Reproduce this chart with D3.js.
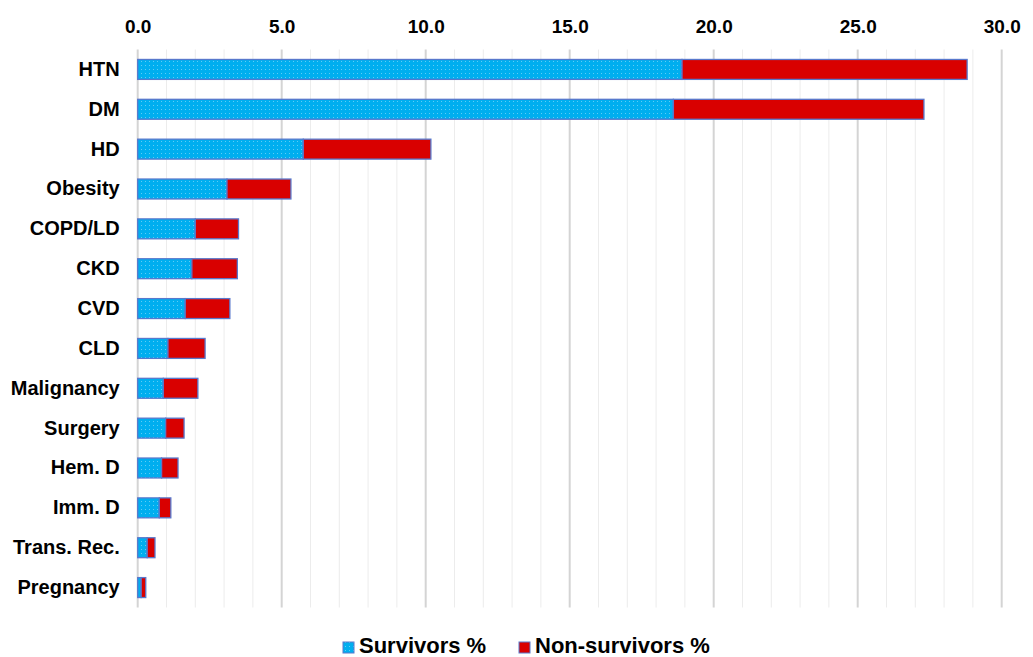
<!DOCTYPE html>
<html>
<head>
<meta charset="utf-8">
<script src="https://cdn.jsdelivr.net/npm/d3@7"></script>
<style>
  html, body { margin: 0; padding: 0; background: #fff; }
  svg { display: block; font-family: "Liberation Sans", Arial, sans-serif; }
</style>
</head>
<body>
<svg id="chart" width="1033" height="657"></svg>
<script>
// Comorbidity categories, top to bottom
const categories = ["HTN", "DM", "HD", "Obesity", "COPD/LD", "CKD", "CVD", "CLD",
  "Malignancy", "Surgery", "Hem. D", "Imm. D", "Trans. Rec.", "Pregnancy"];
// Percentages per group (stacked)
const survivors = [18.9, 18.6, 5.75, 3.1, 2.0, 1.88, 1.65, 1.05, 0.89, 0.97, 0.83, 0.75, 0.33, 0.12];
const nonSurvivors = [9.9, 8.7, 4.43, 2.22, 1.5, 1.58, 1.55, 1.29, 1.2, 0.64, 0.57, 0.4, 0.27, 0.16];
const seriesNames = ["Survivors %", "Non-survivors %"];
const xTicks = [0, 5, 10, 15, 20, 25, 30];

const svg = d3.select("#chart");
const plotLeft = 137.7, plotRight = 1001.7, plotTop = 49.5, plotBottom = 607.5;

const x = d3.scaleLinear().domain([0, 30]).range([plotLeft, plotRight]);
const y = d3.scaleBand().domain(categories).range([plotTop, plotBottom])
  .paddingInner(0.5).paddingOuter(0.25);

// Dotted fill for the survivors series
const defs = svg.append("defs");
const pat = defs.append("pattern").attr("id", "dots")
  .attr("patternUnits", "userSpaceOnUse").attr("width", 4).attr("height", 4);
pat.append("rect").attr("width", 4).attr("height", 4).attr("fill", "#00AEEF");
pat.append("rect").attr("x", 1).attr("y", 1).attr("width", 1).attr("height", 1)
  .attr("fill", "#5fcdf5");

// Gridlines: minor every 1, major every 5
const minor = d3.range(0, 31);
svg.append("g").selectAll("line").data(minor.filter(d => d % 5 !== 0)).join("line")
  .attr("x1", d => x(d)).attr("x2", d => x(d))
  .attr("y1", plotTop).attr("y2", plotBottom)
  .attr("stroke", "#ececec").attr("stroke-width", 1);
svg.append("g").selectAll("line").data(xTicks).join("line")
  .attr("x1", d => x(d)).attr("x2", d => x(d))
  .attr("y1", plotTop).attr("y2", plotBottom)
  .attr("stroke", "#d4d4d4").attr("stroke-width", 2);

// Top axis labels
const xAxis = d3.axisTop(x).tickValues(xTicks).tickFormat(d3.format(".1f")).tickSize(0).tickPadding(0);
const gx = svg.append("g").attr("transform", `translate(0,${plotTop - 17})`).call(xAxis);
gx.select(".domain").remove();
gx.selectAll("text").attr("font-size", 19).attr("font-weight", "bold").attr("fill", "#000")
  .attr("font-family", "Liberation Sans, Arial, sans-serif");

// Category axis
const yAxis = d3.axisLeft(y).tickSize(0).tickPadding(0);
const gy = svg.append("g").attr("transform", `translate(${plotLeft - 18},0)`).call(yAxis);
gy.select(".domain").remove();
gy.selectAll("text").attr("font-size", 20).attr("font-weight", "bold").attr("fill", "#000")
  .attr("font-family", "Liberation Sans, Arial, sans-serif");

// Stacked bars
const rows = categories.map((c, i) => ({ cat: c, s: survivors[i], n: nonSurvivors[i] }));
const g = svg.append("g");
g.selectAll("rect.surv").data(rows).join("rect").attr("class", "surv")
  .attr("x", x(0)).attr("y", d => y(d.cat))
  .attr("width", d => x(d.s) - x(0)).attr("height", y.bandwidth())
  .attr("fill", "url(#dots)").attr("stroke", "#5878cc").attr("stroke-width", 1.3);
g.selectAll("rect.non").data(rows).join("rect").attr("class", "non")
  .attr("x", d => x(d.s)).attr("y", d => y(d.cat))
  .attr("width", d => x(d.s + d.n) - x(d.s)).attr("height", y.bandwidth())
  .attr("fill", "#D90000").attr("stroke", "#5878cc").attr("stroke-width", 1.3);

// Legend
const legend = svg.append("g").attr("transform", "translate(0,653)");
const legX = [343, 519];
const legFill = ["url(#dots)", "#D90000"];
seriesNames.forEach((name, i) => {
  legend.append("rect").attr("x", legX[i]).attr("y", -11).attr("width", 11).attr("height", 11)
    .attr("fill", legFill[i]).attr("stroke", "#5878cc").attr("stroke-width", 1);
  legend.append("text").attr("x", legX[i] + 16).attr("y", 0)
    .attr("font-size", 22).attr("font-weight", "bold").attr("fill", "#000").text(name);
});
</script>
</body>
</html>
